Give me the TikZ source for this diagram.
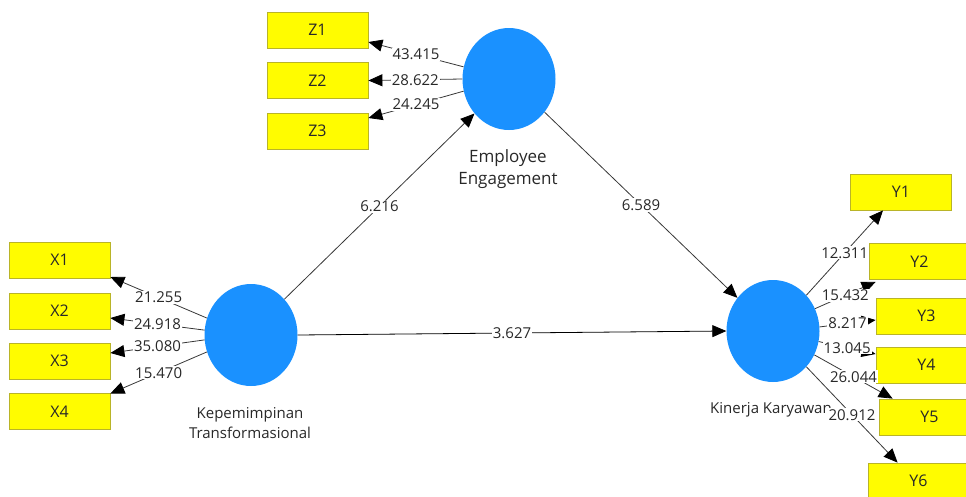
\documentclass[tikz,border=0pt]{standalone}
\usepackage{fontspec}
\setmainfont{Open Sans}
\usetikzlibrary{shapes.geometric,arrows.meta}
\definecolor{latblue}{RGB}{26,145,255}
\definecolor{indfill}{RGB}{255,252,0}
\definecolor{inddraw}{RGB}{185,180,40}
\definecolor{linec}{RGB}{55,55,55}
\definecolor{txtc}{RGB}{40,40,40}
\tikzset{
  latent/.style={ellipse,fill=latblue,draw=none,minimum width=93pt,minimum height=102pt,inner sep=0pt},
  indic/.style={rectangle,fill=indfill,draw=inddraw,line width=0.8pt,minimum width=101pt,minimum height=36pt,inner sep=0pt,font=\fontsize{16}{18}\selectfont,text=txtc},
  latlabel/.style={align=center,font=\fontsize{15}{20}\selectfont,text=txtc,inner sep=0pt},
  conn/.style={draw=linec,line width=0.8pt,-{Triangle[length=14pt,width=12pt,fill=black,color=black]}},
  lbl/.style={fill=white,inner sep=1pt,font=\fontsize{15}{16}\selectfont,text=txtc}
}
\begin{document}
\begin{tikzpicture}[x=1pt,y=-1pt]
\useasboundingbox (0,0) rectangle (966,496);
\clip (0,0) rectangle (966,496);
% latent variables
\node[latent] (ee) at (509,79) {};
\node[latent] (kt) at (251,335) {};
\node[latent] (kk) at (773,331) {};
\node[latlabel,font=\fontsize{17}{22}\selectfont] (eel) at (508,169) {Employee\\Engagement};
\node[latlabel] (ktl) at (250,423) {Kepemimpinan\\Transformasional};
\node[latlabel] (kkl) at (771,410) {Kinerja Karyawan};
% indicators
\node[indic] (z1) at (317.5,30) {Z1};
\node[indic] (z2) at (317.5,80.5) {Z2};
\node[indic] (z3) at (317.5,131) {Z3};
\node[indic] (x1) at (59.5,260) {X1};
\node[indic] (x2) at (59.5,311) {X2};
\node[indic] (x3) at (59.5,361) {X3};
\node[indic] (x4) at (59.5,411.5) {X4};
\node[indic] (y1) at (901,192) {Y1};
\node[indic] (y2) at (919.5,261.5) {Y2};
\node[indic] (y3) at (926.5,316) {Y3};
\node[indic] (y4) at (926.5,365) {Y4};
\node[indic] (y5) at (929.5,417) {Y5};
\node[indic] (y6) at (918.5,481) {Y6};
% outer loadings EE
\draw[conn] (ee.165) -- node[lbl]{43.415} ([yshift=-12pt]z1.east);
\draw[conn] (ee.180) -- node[lbl]{28.622} (z2.east);
\draw[conn] (ee.195) -- node[lbl]{24.245} ([yshift=13pt]z3.east);
% outer loadings KT
\draw[conn] (kt.159) -- node[lbl]{21.255} ([yshift=-17pt]x1.east);
\draw[conn] (kt.174) -- node[lbl]{24.918} ([yshift=-7pt]x2.east);
\draw[conn] (kt.186) -- node[lbl]{35.080} ([yshift=8pt]x3.east);
\draw[conn] (kt.201) -- node[lbl]{15.470} ([yshift=18pt]x4.east);
% outer loadings KK
\draw[conn] (kk.47) -- node[lbl]{12.311} ([xshift=-18pt]y1.south);
\draw[conn] (kk.28) -- node[lbl]{15.432} ([xshift=7pt,yshift=-2pt]y2.south west);
\draw[conn] (kk.5) -- node[lbl]{8.217} ([yshift=-4pt]y3.west);
\draw[conn] (kk.-13) -- node[lbl]{13.045} ([yshift=11pt]y4.west);
\draw[conn] (kk.-30) -- node[lbl]{26.044} ([xshift=14pt]y5.north west);
\draw[conn] (kk.-47) -- node[lbl]{20.912} ([xshift=30pt]y6.north west);
% structural paths
\draw[conn] (kt.47) -- node[lbl]{6.216} (ee.225);
\draw[conn] (ee.-43) -- node[lbl]{6.589} (kk.137);
\draw[conn,draw=black] (kt.east) -- node[lbl]{3.627} (kk.west);
\end{tikzpicture}
\end{document}
